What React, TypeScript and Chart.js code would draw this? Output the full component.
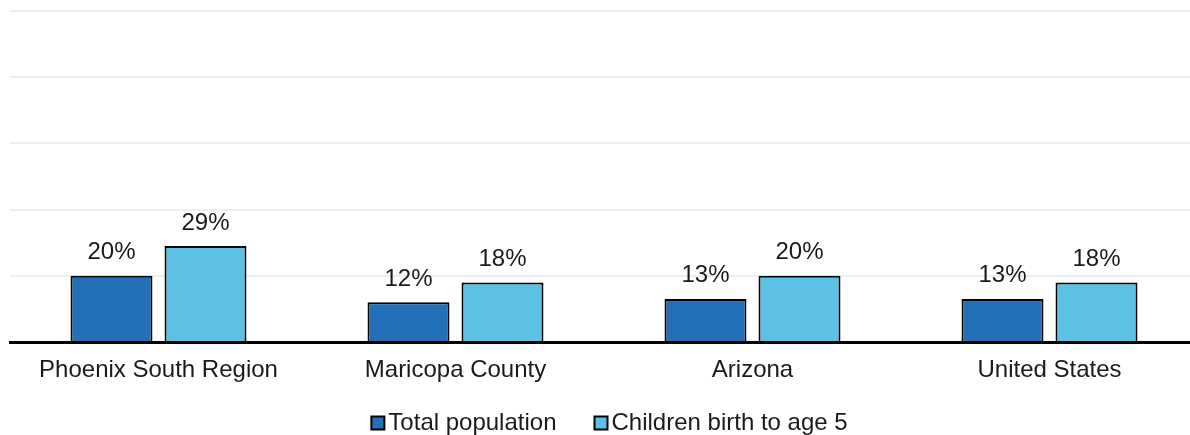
import React, { useEffect, useRef } from "react";
import { Chart, registerables } from "chart.js";

Chart.register(...registerables);

const categories = ["Phoenix South Region", "Maricopa County", "Arizona", "United States"];
const totalPopulation = [20, 12, 13, 13];
const childrenToFive = [29, 18, 20, 18];
const seriesLabels = ["Total population", "Children birth to age 5"];
const yTicks = [0, 20, 40, 60, 80, 100];

const FONT = "'Liberation Sans', Arial, sans-serif";
const TEXT = "#1a1a1a";

const valueLabelPlugin = {
  id: "valueLabels",
  afterDatasetsDraw(chart: any) {
    const ctx = chart.ctx;
    ctx.save();
    ctx.font = `24px ${FONT}`;
    ctx.fillStyle = TEXT;
    ctx.textAlign = "center";
    ctx.textBaseline = "alphabetic";
    chart.data.datasets.forEach((ds: any, di: number) => {
      const meta = chart.getDatasetMeta(di);
      meta.data.forEach((bar: any, i: number) => {
        ctx.fillText(`${ds.data[i]}%`, bar.x, bar.y - 16.5);
      });
    });
    ctx.restore();
  },
};

const legendPlugin = {
  id: "customLegend",
  afterDraw(chart: any) {
    const ctx = chart.ctx;
    ctx.save();
    ctx.font = `24px ${FONT}`;
    ctx.textBaseline = "alphabetic";
    ctx.textAlign = "left";
    const box = 13;
    const gap = 4;
    const itemGap = 38;
    const items = chart.data.datasets.map((ds: any) => ({
      label: ds.label,
      color: ds.backgroundColor,
      w: box + gap + ctx.measureText(ds.label).width,
    }));
    const total = items.reduce((s: number, it: any) => s + it.w, 0) + itemGap * (items.length - 1);
    let x = 609.5 - total / 2;
    const baseline = 429.5;
    items.forEach((it: any) => {
      ctx.fillStyle = it.color;
      ctx.fillRect(x, baseline - 13, box, box);
      ctx.lineWidth = 2;
      ctx.strokeStyle = "#000";
      ctx.strokeRect(x, baseline - 13, box, box);
      ctx.fillStyle = TEXT;
      ctx.fillText(it.label, x + box + gap, baseline);
      x += it.w + itemGap;
    });
    ctx.restore();
  },
};

export default function App() {
  const ref = useRef<HTMLCanvasElement>(null);
  useEffect(() => {
    document.body.style.margin = "0";
    const chart = new Chart(ref.current!, {
      type: "bar",
      data: {
        labels: categories,
        datasets: [
          {
            label: seriesLabels[0],
            data: totalPopulation,
            backgroundColor: "#2470B8",
            borderColor: "#000000",
            borderWidth: 2,
            borderSkipped: "bottom",
          },
          {
            label: seriesLabels[1],
            data: childrenToFive,
            backgroundColor: "#5BC2E6",
            borderColor: "#000000",
            borderWidth: 2,
            borderSkipped: "bottom",
          },
        ],
      },
      options: {
        animation: false,
        responsive: false,
        maintainAspectRatio: false,
        layout: { padding: { left: 10, right: 0, top: 11, bottom: 33 } },
        datasets: { bar: { categoryPercentage: 0.633, barPercentage: 0.872 } },
        plugins: { legend: { display: false }, tooltip: { enabled: false } },
        scales: {
          x: {
            grid: { display: false, drawTicks: false },
            border: { display: true, color: "#000000", width: 3 },
            ticks: { color: TEXT, font: { family: FONT, size: 24 }, padding: 14, maxRotation: 0, autoSkip: false },
            afterFit: (s: any) => {
              s.height = 60;
            },
          },
          y: {
            min: yTicks[0],
            max: yTicks[yTicks.length - 1],
            afterBuildTicks: (s: any) => {
              s.ticks = yTicks.map((v) => ({ value: v }));
            },
            grid: { color: "#eeeeee", lineWidth: 2, drawTicks: false },
            border: { display: false },
            ticks: { display: false },
            afterFit: (s: any) => {
              s.width = 0;
            },
          },
        },
      },
      plugins: [valueLabelPlugin, legendPlugin],
    });
    return () => chart.destroy();
  }, []);
  return (
    <div style={{ width: 1190, height: 435, overflow: "hidden" }}>
      <canvas ref={ref} width={1198} height={435} style={{ display: "block" }} />
    </div>
  );
}
